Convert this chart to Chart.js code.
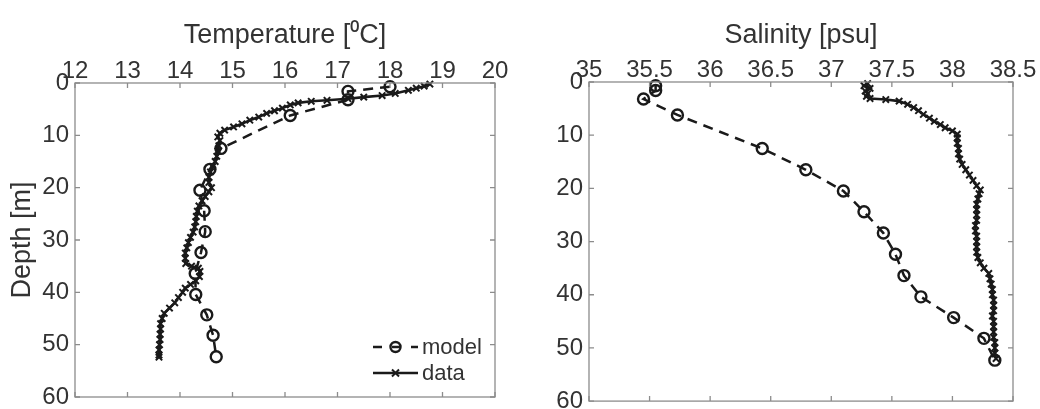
<!DOCTYPE html>
<html>
<head>
<meta charset="utf-8">
<script src="https://cdn.jsdelivr.net/npm/chart.js@4.4.0/dist/chart.umd.min.js"></script>
<style>
  html, body { margin: 0; padding: 0; background: #fff; }
  .panel { position: absolute; top: 0; width: 520px; height: 409px; }
  #left { left: 0; }
  #right { left: 520px; }
</style>
</head>
<body>
<div class="panel" id="left"><canvas id="tempChart"></canvas></div>
<div class="panel" id="right"><canvas id="salChart"></canvas></div>
<script>
// ===== DATA =====

const tempTicks = [12, 13, 14, 15, 16, 17, 18, 19, 20];
const salTicks = [35, 35.5, 36, 36.5, 37, 37.5, 38, 38.5];
const depthTicks = [0, 10, 20, 30, 40, 50, 60];

// model levels (circles)
const modelDepth = [0.7, 1.6, 3.2, 6.2, 12.5, 16.5, 20.5, 24.4, 28.4, 32.4, 36.4, 40.4, 44.3, 48.2, 52.3];
const modelTemp = [18.0, 17.2, 17.2, 16.1, 14.78, 14.57, 14.38, 14.46, 14.48, 14.4, 14.29, 14.3, 14.51, 14.63, 14.69];
const modelSal = [35.55, 35.55, 35.45, 35.73, 36.43, 36.79, 37.1, 37.27, 37.43, 37.53, 37.6, 37.74, 38.01, 38.26, 38.35];

// measured profile, temperature (crosses)
const tempDepth = [0.2, 0.6, 1.0, 1.4, 2.0, 2.4, 2.7, 3.0, 3.3, 3.5, 3.8, 4.2, 4.8, 5.3, 5.8, 6.5, 7.1, 7.8, 8.4, 9.0,
  9.6, 10.3, 11.0, 12.0, 13.0, 14.0, 15.0, 16.0, 17.0, 18.0, 19.0, 20.0, 20.8, 21.7, 22.5, 23.5, 24.5, 25.5, 26.5, 27.5,
  28.5, 29.5, 30.5, 31.5, 32.5, 33.5, 34.5, 35.0, 35.4, 36.0, 37.0, 37.8, 38.5, 39.2, 40.0, 41.0, 42.0, 43.0, 44.0, 45.0,
  46.0, 47.0, 48.0, 49.0, 50.0, 51.0, 52.0, 52.4];
const tempData = [18.76, 18.65, 18.5, 18.35, 18.1, 17.85, 17.5, 17.2, 16.8, 16.5, 16.25, 16.1, 15.95, 15.8, 15.65, 15.5, 15.33, 15.18, 15.02, 14.85,
  14.76, 14.72, 14.76, 14.74, 14.72, 14.7, 14.67, 14.62, 14.58, 14.55, 14.55, 14.6, 14.55, 14.48, 14.42, 14.36, 14.33, 14.31, 14.3, 14.28,
  14.25, 14.2, 14.16, 14.13, 14.1, 14.1, 14.11, 14.22, 14.35, 14.38, 14.37, 14.3, 14.2, 14.1, 14.05, 13.97, 13.9, 13.8, 13.7, 13.66,
  13.63, 13.63, 13.62, 13.62, 13.61, 13.6, 13.6, 13.6];

// measured profile, salinity (crosses)
const salDepth = [0.3, 0.7, 1.2, 1.7, 2.2, 2.7, 3.1, 3.3, 3.6, 4.2, 4.8, 5.4, 6.1, 6.8, 7.4, 8.0, 8.6, 9.2, 9.8, 10.5,
  11.5, 12.5, 13.5, 14.5, 15.5, 16.5, 17.5, 18.5, 19.5, 20.3, 21.0, 22.0, 23.0, 24.0, 25.0, 26.0, 27.0, 28.0, 29.0, 30.0,
  31.0, 32.0, 33.0, 34.0, 35.0, 36.0, 37.0, 38.0, 39.0, 40.0, 41.0, 42.0, 43.0, 44.0, 45.0, 46.0, 47.0, 48.0, 49.0, 50.0,
  51.0, 52.0];
const salData = [37.3, 37.27, 37.32, 37.28, 37.3, 37.29, 37.32, 37.45, 37.56, 37.63, 37.68, 37.72, 37.76, 37.81, 37.85, 37.9, 37.94, 38.0, 38.04, 38.04,
  38.04, 38.05, 38.05, 38.06, 38.08, 38.11, 38.14, 38.17, 38.2, 38.23, 38.22, 38.21, 38.2, 38.2, 38.2, 38.2, 38.19, 38.19, 38.2, 38.2,
  38.2, 38.2, 38.21, 38.23, 38.26, 38.3, 38.31, 38.32, 38.33, 38.33, 38.34, 38.34, 38.34, 38.33, 38.34, 38.34, 38.34, 38.34, 38.35, 38.35,
  38.35, 38.36];

// ===== STYLE =====

const FONT = '"Liberation Sans", Arial, sans-serif';
const textGrey = '#333333';
const axisGrey = '#8c8c8c';
const ink = '#1a1a1a';

Chart.defaults.font.family = FONT;
Chart.defaults.color = textGrey;

const toPoints = (xs, ys) => xs.map((x, i) => ({ x: x, y: ys[i] }));

function modelSet(values) {
  return {
    label: 'model',
    data: toPoints(values, modelDepth),
    showLine: true,
    borderColor: ink,
    borderWidth: 2.5,
    borderDash: [10, 7],
    pointStyle: 'circle',
    pointRadius: 5.5,
    pointBorderWidth: 2.4,
    pointBorderColor: ink,
    pointBackgroundColor: 'rgba(0,0,0,0)',
    clip: false
  };
}

function dataSet(values, depths) {
  return {
    label: 'data',
    data: toPoints(values, depths),
    showLine: true,
    borderColor: ink,
    borderWidth: 2.6,
    pointStyle: 'crossRot',
    pointRadius: 4.5,
    pointBorderWidth: 2,
    pointBorderColor: ink,
    clip: false
  };
}

// ===== FRAME WITH INWARD TICKS (matlab look) =====

const framePlugin = {
  id: 'frame',
  afterDraw(chart) {
    const { ctx, chartArea: a, scales } = chart;
    ctx.save();
    ctx.strokeStyle = axisGrey;
    ctx.lineWidth = 1.3;
    ctx.strokeRect(a.left, a.top, a.right - a.left, a.bottom - a.top);
    ctx.beginPath();
    scales.x.ticks.forEach(t => {
      const px = scales.x.getPixelForValue(t.value);
      ctx.moveTo(px, a.top); ctx.lineTo(px, a.top + 5);
      ctx.moveTo(px, a.bottom); ctx.lineTo(px, a.bottom - 5);
    });
    scales.y.ticks.forEach(t => {
      const py = scales.y.getPixelForValue(t.value);
      ctx.moveTo(a.left, py); ctx.lineTo(a.left + 5, py);
      ctx.moveTo(a.right, py); ctx.lineTo(a.right - 5, py);
    });
    ctx.stroke();
    ctx.restore();
  }
};

// ===== LEGEND INSIDE LEFT PANEL =====

const legendPlugin = {
  id: 'insideLegend',
  afterDraw(chart) {
    const { ctx, chartArea: a } = chart;
    const x0 = a.right - 122, x1 = a.right - 77, xm = (x0 + x1) / 2;
    const rows = [a.bottom - 50, a.bottom - 24];
    ctx.save();
    ctx.strokeStyle = ink;
    ctx.fillStyle = textGrey;
    ctx.font = '22px ' + FONT;
    ctx.textBaseline = 'middle';

    // model
    ctx.lineWidth = 2.5;
    ctx.setLineDash([9, 10]);
    ctx.beginPath(); ctx.moveTo(x0, rows[0]); ctx.lineTo(x1, rows[0]); ctx.stroke();
    ctx.setLineDash([]);
    ctx.lineWidth = 2.4;
    ctx.beginPath(); ctx.arc(xm, rows[0], 5, 0, Math.PI * 2); ctx.stroke();
    ctx.fillText('model', x1 + 4, rows[0] + 1);

    // data
    ctx.lineWidth = 2.4;
    ctx.beginPath(); ctx.moveTo(x0, rows[1]); ctx.lineTo(x1, rows[1]); ctx.stroke();
    ctx.lineWidth = 2;
    ctx.beginPath();
    ctx.moveTo(xm - 3.5, rows[1] - 3.5); ctx.lineTo(xm + 3.5, rows[1] + 3.5);
    ctx.moveTo(xm - 3.5, rows[1] + 3.5); ctx.lineTo(xm + 3.5, rows[1] - 3.5);
    ctx.stroke();
    ctx.fillText('data', x1 + 4, rows[1] + 1);
    ctx.restore();
  }
};

function profileOptions(xTicks, xTitle, topH, leftW, yTitle, pad) {
  return {
    responsive: true,
    maintainAspectRatio: false,
    animation: false,
    layout: { padding: pad },
    plugins: { legend: { display: false }, tooltip: { enabled: false } },
    scales: {
      x: {
        type: 'linear',
        position: 'top',
        min: xTicks[0],
        max: xTicks[xTicks.length - 1],
        afterBuildTicks: s => { s.ticks = xTicks.map(v => ({ value: v })); },
        ticks: { autoSkip: false, maxRotation: 0, padding: -3, color: textGrey, font: { size: 24 }, callback: v => String(v) },
        grid: { display: false, drawTicks: false },
        border: { display: false },
        title: { display: true, text: xTitle, color: textGrey, font: { size: 27 }, padding: { top: 19, bottom: 0 } },
        afterFit: s => { s.height = topH; s.paddingLeft = 0; s.paddingRight = 0; }
      },
      y: {
        type: 'linear',
        reverse: true,
        min: depthTicks[0],
        max: depthTicks[depthTicks.length - 1],
        afterBuildTicks: s => { s.ticks = depthTicks.map(v => ({ value: v })); },
        ticks: { autoSkip: false, padding: 6, color: textGrey, font: { size: 24 }, callback: v => String(v) },
        grid: { display: false, drawTicks: false },
        border: { display: false },
        title: { display: !!yTitle, text: yTitle, color: textGrey, font: { size: 27 }, padding: { top: 6, bottom: 0 } },
        afterFit: s => { s.width = leftW; s.paddingTop = 0; s.paddingBottom = 0; }
      }
    }
  };
}

// ===== TEMPERATURE =====

new Chart(document.getElementById('tempChart'), {
  type: 'scatter',
  data: { datasets: [modelSet(modelTemp), dataSet(tempData, tempDepth)] },
  options: profileOptions(tempTicks, 'Temperature [\u2070C]', 83, 75, 'Depth [m]', { left: 0, right: 25, top: 0, bottom: 12 }),
  plugins: [framePlugin, legendPlugin]
});

// ===== SALINITY =====

new Chart(document.getElementById('salChart'), {
  type: 'scatter',
  data: { datasets: [modelSet(modelSal), dataSet(salData, salDepth)] },
  options: profileOptions(salTicks, 'Salinity [psu]', 82, 69, '', { left: 0, right: 27, top: 0, bottom: 2 }),
  plugins: [framePlugin]
});
</script>
</body>
</html>
